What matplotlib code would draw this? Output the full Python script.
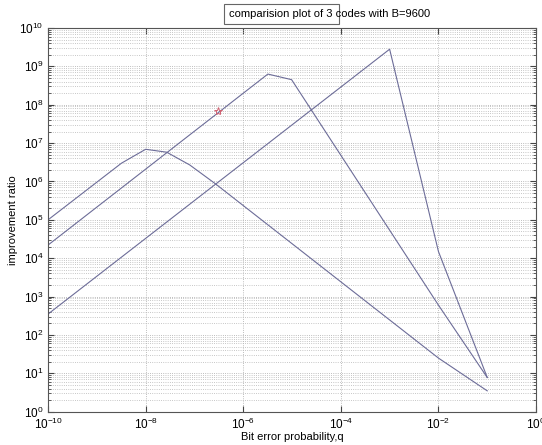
import matplotlib
matplotlib.use("Agg")
import matplotlib.pyplot as plt
from matplotlib.patches import Rectangle
from matplotlib.ticker import LogLocator, NullFormatter

plt.rcParams["font.family"] = ["Liberation Sans", "DejaVu Sans"]
plt.rcParams["mathtext.default"] = "regular"
plt.rcParams["font.size"] = 8

# improvement ratio vs bit error probability for three codes (B=9600)
q_code1 = [1e-10, 3.2e-9, 1e-8, 2.7e-8, 8e-8, 2.6e-7, 1e-2, 1e-1]
r_code1 = [1e5, 3.0e6, 6.9e6, 5.8e6, 2.7e6, 9.0e5, 2.5e1, 3.5e0]

q_code2 = [1e-10, 3.2e-6, 9.8e-6, 1e-2, 1e-1]
r_code2 = [2.2e4, 6.3e8, 4.5e8, 6.0e2, 7.8e0]

q_code3 = [1e-10, 1e-3, 1e-2, 1e-1]
r_code3 = [3.5e2, 2.8e9, 1.5e4, 7.8e0]

q_mark = [3.1e-7]
r_mark = [6.8e7]

line_color = "#6c6c98"

fig = plt.figure(figsize=(5.42, 4.45), dpi=100)
ax = fig.add_axes([0.0886, 0.0748, 0.9004, 0.8623])

ax.loglog(q_code1, r_code1, color=line_color, lw=0.8)
ax.loglog(q_code2, r_code2, color=line_color, lw=0.8)
ax.loglog(q_code3, r_code3, color=line_color, lw=0.8)
ax.plot(q_mark, r_mark, marker="*", ms=6, mfc="none", mec="#d06070",
        mew=0.7, ls="none")

ax.set_xlim(1e-10, 1e0)
ax.set_ylim(1e0, 1e10)
ax.xaxis.set_major_locator(LogLocator(base=100))
ax.xaxis.set_minor_locator(LogLocator(base=10, subs=[1.0]))
ax.xaxis.set_minor_formatter(NullFormatter())
ax.yaxis.set_major_locator(LogLocator(base=10, numticks=12))
ax.yaxis.set_minor_locator(LogLocator(base=10, subs=range(2, 10), numticks=12))
ax.yaxis.set_minor_formatter(NullFormatter())

ax.tick_params(which="both", direction="in", top=True, right=True,
               colors="#444444", labelcolor="black", labelsize=8.5)
ax.tick_params(axis="x", which="minor", length=0)
ax.tick_params(which="major", length=4)
ax.tick_params(which="minor", length=2)

ax.grid(True, which="major", axis="both", ls=":", lw=0.6, color="#a8a8a8")
ax.grid(True, which="minor", axis="y", ls=":", lw=0.6, color="#b4b4b4")
for sp in ax.spines.values():
    sp.set_color("#555555")
    sp.set_linewidth(0.8)

ax.set_xlabel("Bit error probability,q", fontsize=8)
ax.set_ylabel("improvement ratio", fontsize=8)
ax.xaxis.set_label_coords(0.5, -0.053)
ax.yaxis.set_label_coords(-0.061, 0.5)

fig.text(229 / 542, 1 - 14 / 445, "comparision plot of 3 codes with B=9600",
         ha="left", va="center", fontsize=8)
fig.patches.append(Rectangle((224 / 542, 1 - 24 / 445), 115 / 542, 20 / 445,
                             transform=fig.transFigure, fill=False,
                             ec="#666666", lw=0.8))

fig.savefig("out.png", dpi=100)
